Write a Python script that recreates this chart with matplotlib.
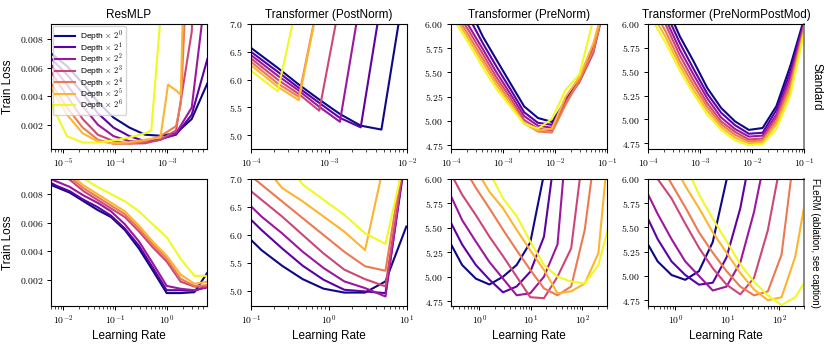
import numpy as np
import matplotlib
matplotlib.use("Agg")
import matplotlib.pyplot as plt
from matplotlib.ticker import FixedLocator, FuncFormatter, LogLocator, NullFormatter

plt.rcParams['mathtext.fontset'] = 'cm'
plt.rcParams['font.family'] = ['Liberation Sans', 'DejaVu Sans']

depths = [0, 1, 2, 3, 4, 5, 6]
N = None

# ---- ResMLP, standard
lr_mlp_std = [5.9e-6, 1.2e-5, 2.4e-5, 4.7e-5, 9.4e-5, 1.9e-4, 3.8e-4, 5.0e-4, 7.5e-4, 1.05e-3, 1.5e-3, 1.85e-3, 3.0e-3, 6.0e-3]
loss_mlp_std = [
    [0.0070, 0.0061, 0.0049, 0.0036, 0.0025, 0.0018, 0.0013, N, 0.00123, N, 0.0014, N, 0.0024, 0.0049],
    [0.00665, 0.0055, 0.0042, 0.0028, 0.0018, 0.0012, 0.00085, N, 0.0010, N, 0.0013, N, 0.0027, 0.0066],
    [0.0062, 0.0048, 0.0033, 0.0020, 0.0012, 0.00085, 0.00077, N, 0.00095, N, 0.0014, N, 0.0032, 0.0123],
    [0.0057, 0.0040, 0.0024, 0.0013, 0.00085, 0.00068, 0.0007, N, 0.00095, N, 0.0016, N, 0.0085, 0.03],
    [0.0049, 0.0032, 0.0018, 0.00095, 0.00066, 0.00067, 0.00084, N, 0.0012, N, 0.0019, 0.0035, 0.02, N],
    [0.00456, 0.0027, 0.0014, 0.00084, 0.0007, 0.00077, 0.00095, N, 0.0011, 0.0048, 0.0044, 0.0041, 0.035, N],
    [0.0035, 0.0012, 0.00075, 0.00075, 0.0009, 0.0011, 0.0014, 0.0016, 0.0095, 0.02, N, N, N, N],
]

# ---- Transformers, standard (shared lr grid)
lr_tf_std = [1e-4, 2.2e-4, 4.1e-4, 7.5e-4, 1.38e-3, 2.55e-3, 4.7e-3, 8.7e-3, 1.6e-2, 2.95e-2, 5.45e-2, 1e-1]
loss_post_std = [
    [6.57, 6.21, 5.91, 5.64, 5.38, 5.17, 5.10, 7.42, N, N, N, N],
    [6.50, 6.14, 5.85, 5.58, 5.31, 5.14, 7.44, N, N, N, N, N],
    [6.44, 6.07, 5.80, 5.51, 5.24, 7.47, N, N, N, N, N, N],
    [6.38, 6.00, 5.74, 5.44, 7.40, N, N, N, N, N, N, N],
    [6.32, 5.93, 5.69, 7.50, N, N, N, N, N, N, N, N],
    [6.26, 5.87, 5.63, 7.48, N, N, N, N, N, N, N, N],
    [6.16, 5.79, 7.52, N, N, N, N, N, N, N, N, N],
]
loss_pre_std = [
    [6.50, 6.17, 5.87, 5.63, 5.39, 5.15, 5.03, 4.99, 5.20, 5.44, 5.74, 6.3],
    [6.40, 6.07, 5.80, 5.56, 5.33, 5.09, 4.98, 4.96, 5.22, 5.45, 5.72, 6.3],
    [6.25, 5.98, 5.74, 5.50, 5.28, 5.05, 4.95, 4.93, 5.18, 5.42, 5.76, 6.3],
    [6.22, 5.93, 5.69, 5.45, 5.24, 5.01, 4.92, 4.90, 5.20, 5.40, 5.70, 6.3],
    [6.18, 5.88, 5.64, 5.41, 5.20, 4.98, 4.89, 4.88, 5.17, 5.42, 5.73, 6.3],
    [6.14, 5.84, 5.60, 5.37, 5.18, 4.97, 4.90, 4.92, 5.25, 5.45, 5.80, 6.3],
    [6.09, 5.80, 5.55, 5.33, 5.15, 4.97, 4.92, 5.02, 5.32, 5.48, 6.05, 6.5],
]
loss_pm_std = [
    [6.60, 6.20, 5.87, 5.61, 5.33, 5.12, 4.98, 4.89, 4.91, 5.14, 5.56, 6.05],
    [6.50, 6.12, 5.80, 5.53, 5.27, 5.07, 4.94, 4.85, 4.86, 5.10, 5.50, 6.02],
    [6.40, 6.05, 5.73, 5.47, 5.22, 5.02, 4.90, 4.82, 4.83, 5.05, 5.45, 6.00],
    [6.35, 5.99, 5.67, 5.41, 5.17, 4.98, 4.87, 4.79, 4.80, 5.02, 5.40, 5.97],
    [6.25, 5.92, 5.61, 5.36, 5.13, 4.95, 4.84, 4.77, 4.78, 4.98, 5.35, 5.95],
    [6.18, 5.86, 5.56, 5.31, 5.09, 4.92, 4.81, 4.75, 4.76, 4.95, 5.30, 5.92],
    [6.12, 5.80, 5.51, 5.27, 5.05, 4.89, 4.78, 4.73, 4.74, 4.90, 5.25, 5.90],
]

# ---- ResMLP, FLeRM
lr_mlp_fl = [0.004, 0.0073, 0.0135, 0.025, 0.046, 0.084, 0.155, 0.29, 0.53, 0.99, 1.83, 3.37, 6.2]
loss_mlp_fl = [
    [0.0089, 0.0085, 0.0081, 0.0075, 0.0069, 0.0064, 0.0055, 0.0042, 0.0027, 0.0011, 0.0011, 0.00116, 0.0026],
    [0.0091, 0.0086, 0.0082, 0.0076, 0.0071, 0.0065, 0.0056, 0.0044, 0.0029, 0.0013, 0.0013, 0.00125, 0.0016],
    [0.0093, 0.0089, 0.0085, 0.0079, 0.0074, 0.0068, 0.0059, 0.0047, 0.0032, 0.0016, 0.0014, 0.0013, 0.0015],
    [0.0099, 0.0095, 0.0090, 0.0082, 0.0076, 0.0070, 0.0064, 0.0054, 0.0043, 0.0033, 0.0019, 0.00155, 0.00155],
    [0.0101, 0.0097, 0.0092, 0.0084, 0.0078, 0.0072, 0.0066, 0.0056, 0.0045, 0.0035, 0.0021, 0.0016, 0.00165],
    [0.0103, 0.0099, 0.0094, 0.0086, 0.0080, 0.0074, 0.0068, 0.0058, 0.0047, 0.0037, 0.0024, 0.00175, 0.0019],
    [0.0108, 0.0104, 0.0098, 0.0091, 0.0085, 0.0080, 0.0075, 0.0068, 0.0059, 0.0050, 0.0035, 0.0023, 0.0023],
]

# ---- PostNorm, FLeRM
lr_post_fl = [0.074, 0.136, 0.25, 0.46, 0.85, 1.57, 2.9, 5.3, 9.8]
loss_post_fl = [
    [6.09, 5.73, 5.45, 5.21, 5.04, 4.97, 4.97, 5.17, 6.15],
    [6.45, 6.09, 5.76, 5.45, 5.20, 5.02, 4.99, 4.96, 7.49],
    [6.69, 6.33, 6.03, 5.70, 5.41, 5.17, 5.05, 4.90, 7.60],
    [6.93, 6.63, 6.33, 6.00, 5.67, 5.38, 5.21, 5.08, 7.60],
    [7.20, 6.90, 6.60, 6.30, 6.00, 5.70, 5.44, 5.36, 7.70],
    [7.80, 7.30, 6.84, 6.60, 6.33, 6.06, 5.73, 7.40, N],
    [N, N, 7.42, 6.90, 6.63, 6.36, 6.03, 5.84, 7.50],
]

# ---- PreNorm / PreNormPostMod, FLeRM
lr_pre_fl = [0.25, 0.46, 0.85, 1.56, 2.87, 5.28, 9.7, 17.9, 32.8, 60.4, 111, 204, 375]
loss_pre_fl = [
    [5.38, 5.12, 4.98, 4.92, 5.00, 5.12, 5.35, 6.05, 6.8, N, N, N, N],
    [5.60, 5.33, 5.12, 4.97, 4.84, 4.90, 5.05, 5.41, 6.46, N, N, N, N],
    [5.88, 5.58, 5.36, 5.15, 4.98, 4.81, 4.83, 5.00, 5.33, 6.95, N, N, N],
    [6.10, 5.84, 5.63, 5.41, 5.21, 5.00, 4.79, 4.78, 5.00, 5.29, 6.41, N, N],
    [N, 6.15, 5.91, 5.70, 5.48, 5.27, 5.07, 4.88, 4.81, 4.90, 5.48, 6.55, N],
    [N, N, 6.10, 5.87, 5.70, 5.48, 5.27, 5.07, 4.83, 4.85, 4.93, 5.24, 6.72],
    [N, N, N, 6.07, 5.80, 5.62, 5.36, 5.12, 5.00, 4.95, 4.93, 5.12, 5.64],
]
loss_pm_fl = [
    [5.40, 5.15, 5.01, 4.96, 5.05, 5.35, 5.99, 6.8, N, N, N, N, N],
    [5.68, 5.38, 5.15, 5.01, 4.91, 4.93, 5.19, 5.70, 6.44, N, N, N, N],
    [5.93, 5.64, 5.38, 5.15, 5.00, 4.85, 4.89, 5.14, 5.66, 6.36, N, N, N],
    [6.20, 6.00, 5.80, 5.54, 5.29, 5.08, 4.91, 4.81, 4.98, 5.47, 6.22, N, N],
    [N, 6.20, 5.95, 5.71, 5.45, 5.24, 5.05, 4.89, 4.80, 4.84, 5.22, 6.36, N],
    [N, N, 6.20, 5.93, 5.70, 5.45, 5.24, 5.03, 4.86, 4.75, 4.78, 5.20, 6.00],
    [N, N, N, 6.15, 5.84, 5.59, 5.36, 5.12, 4.94, 4.80, 4.70, 4.78, 5.01],
]

titles = ['ResMLP', 'Transformer (PostNorm)', 'Transformer (PreNorm)', 'Transformer (PreNormPostMod)']
row_labels = ['Standard', 'FLeRM (ablation, see caption)']

panels = [
    # row, col, lr, losses, xlim, ylim, yticks, ytick fmt
    (0, 0, lr_mlp_std, loss_mlp_std, (5.9e-6, 5.9e-3), (0.0003, 0.00905), [0.002, 0.004, 0.006, 0.008], '%.3f'),
    (0, 1, lr_tf_std, loss_post_std, (1e-4, 1e-2), (4.75, 7.0), [5.0, 5.5, 6.0, 6.5, 7.0], '%.1f'),
    (0, 2, lr_tf_std, loss_pre_std, (1e-4, 1e-1), (4.71, 6.0), [4.75, 5.0, 5.25, 5.5, 5.75, 6.0], '%.2f'),
    (0, 3, lr_tf_std, loss_pm_std, (1e-4, 1e-1), (4.69, 6.0), [4.75, 5.0, 5.25, 5.5, 5.75, 6.0], '%.2f'),
    (1, 0, lr_mlp_fl, loss_mlp_fl, (5.9e-3, 5.9), (0.0002, 0.00905), [0.002, 0.004, 0.006, 0.008], '%.3f'),
    (1, 1, lr_post_fl, loss_post_fl, (1e-1, 1e1), (4.73, 7.0), [5.0, 5.5, 6.0, 6.5, 7.0], '%.1f'),
    (1, 2, lr_pre_fl, loss_pre_fl, (0.28, 300), (4.7, 6.0), [4.75, 5.0, 5.25, 5.5, 5.75, 6.0], '%.2f'),
    (1, 3, lr_pre_fl, loss_pm_fl, (0.30, 300), (4.69, 6.0), [4.75, 5.0, 5.25, 5.5, 5.75, 6.0], '%.2f'),
]

colors = plt.cm.plasma(np.linspace(0, 1, len(depths)))

W, H = 830, 346
fig = plt.figure(figsize=(W / 100, H / 100), dpi=100)
col_left = [51, 251, 451, 648]
row_top = [24, 179]
row_h = [125, 127]
ax_w = 156

for row, col, lr, losses, xlim, ylim, yticks, fmt in panels:
    l = col_left[col] / W
    b = 1 - (row_top[row] + row_h[row]) / H
    ax = fig.add_axes([l, b, ax_w / W, row_h[row] / H])
    x = np.array(lr, dtype=float)
    for i, d in enumerate(depths):
        y = np.array([np.nan if v is None else v for v in losses[i]], dtype=float)
        ok = ~np.isnan(y)
        ax.plot(x[ok], y[ok], color=colors[i], lw=1.5,
                label=r'Depth $\times\ 2^{%d}$' % d)
    ax.set_xscale('log')
    ax.set_xlim(*xlim)
    ax.set_ylim(*ylim)
    decs = [10.0 ** k for k in range(-7, 4) if xlim[0] * 0.999 <= 10.0 ** k <= xlim[1] * 1.001]
    ax.xaxis.set_major_locator(FixedLocator(decs))
    ax.xaxis.set_major_formatter(FuncFormatter(lambda v, p: r'$10^{%d}$' % round(np.log10(v))))
    ax.xaxis.set_minor_locator(LogLocator(base=10, subs=np.arange(2, 10), numticks=20))
    ax.xaxis.set_minor_formatter(NullFormatter())
    ax.yaxis.set_major_locator(FixedLocator(yticks))
    ax.yaxis.set_major_formatter(FuncFormatter(lambda v, p, f=fmt: '$' + (f % v) + '$'))
    ax.tick_params(labelsize=7, length=3, width=0.7, pad=2.5)
    ax.tick_params(which='minor', length=1.8, width=0.5)
    for s in ax.spines.values():
        s.set_linewidth(0.8)
    if row == 0:
        ax.set_title(titles[col], fontsize=8.5, pad=4)
    else:
        ax.set_xlabel('Learning Rate', fontsize=8.5, labelpad=2)
    if col == 0:
        ax.set_ylabel('Train Loss', fontsize=8.5, labelpad=4)
    if col == 3:
        ax.spines['right'].set_color('0.5')
        ax.spines['right'].set_linewidth(1.3)
        ax.text(1.04, 0.5, row_labels[row], transform=ax.transAxes, rotation=270,
                ha='left', va='center', fontsize=8.5 if row == 0 else 7)
    if row == 0 and col == 0:
        ax.legend(loc='upper left', fontsize=6, handlelength=2.4, handleheight=0.5,
                  framealpha=0.8, borderpad=0.3, labelspacing=-0.4, borderaxespad=0.2,
                  handletextpad=0.6)

fig.savefig('out.png', dpi=100)
